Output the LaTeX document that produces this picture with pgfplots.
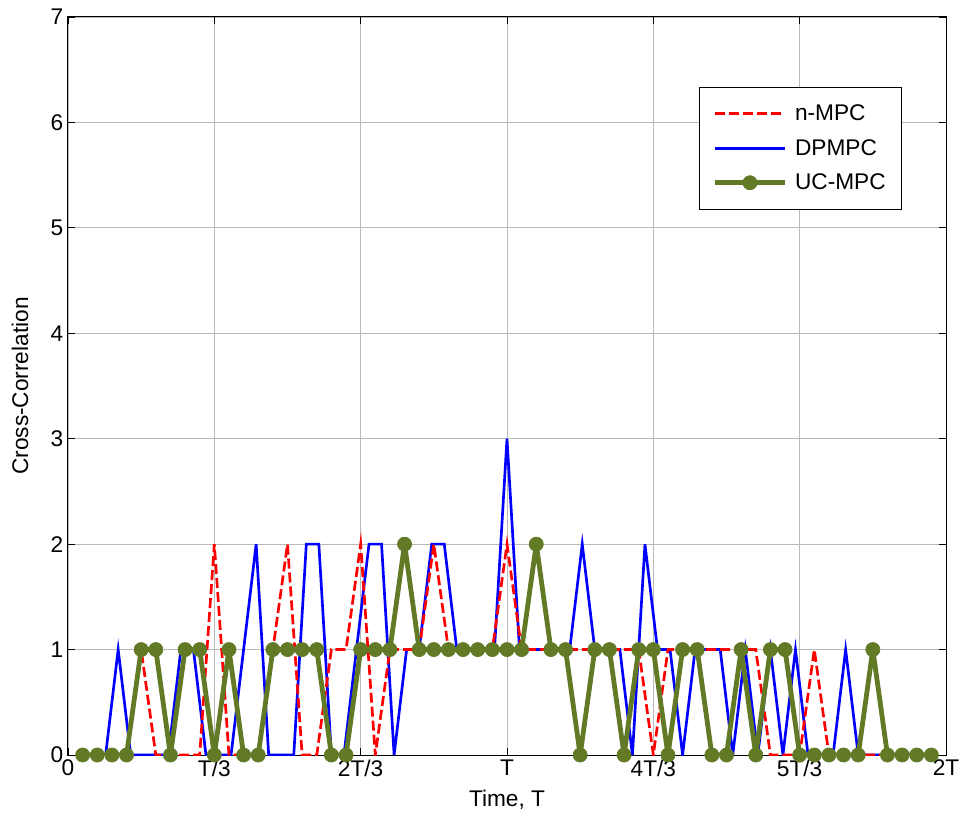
\documentclass[border=0pt]{standalone}
\usepackage{pgfplots}
\pgfplotsset{compat=1.18}
\usepackage{pgfplotstable}
\usepackage{fontspec}
\setmainfont{Liberation Sans}
\definecolor{ucgreen}{RGB}{98,122,38}
\pgfplotsset{legend image code/.code={\draw[mark repeat=2,mark phase=2,#1] plot coordinates {(0pt,0pt) (26pt,0pt) (52pt,0pt)};}}
% k: sample index (step T/30); n = n-MPC, u = UC-MPC
\pgfplotstableread{
k n u
1 0 0
2 0 0
3 0 0
4 0 0
5 1 1
6 0 1
7 0 0
8 0 1
9 0 1
10 2 0
11 0 1
12 0 0
13 0 0
14 1 1
15 2 1
16 0 1
17 0 1
18 1 0
19 1 0
20 2 1
21 0 1
22 1 1
23 1 2
24 1 1
25 2 1
26 1 1
27 1 1
28 1 1
29 1 1
30 2 1
31 1 1
32 1 2
33 1 1
34 1 1
35 1 0
36 1 1
37 1 1
38 1 0
39 1 1
40 0 1
41 1 0
42 1 1
43 1 1
44 1 0
45 1 0
46 1 1
47 1 0
48 0 1
49 0 1
50 0 0
51 1 0
52 0 0
53 0 0
54 0 0
55 0 1
56 0 0
57 0 0
58 0 0
59 0 0
}\tabA
% j: sample index (step T/35); v = DPMPC
\pgfplotstableread{
j v
1 0
2 0
3 0
4 1
5 0
6 0
7 0
8 0
9 1
10 1
11 0
12 0
13 0
14 1
15 2
16 0
17 0
18 0
19 2
20 2
21 0
22 0
23 1
24 2
25 2
26 0
27 1
28 1
29 2
30 2
31 1
32 1
33 1
34 1
35 3
36 1
37 1
38 1
39 1
40 1
41 2
42 1
43 1
44 1
45 0
46 2
47 1
48 1
49 0
50 1
51 1
52 1
53 0
54 1
55 0
56 1
57 0
58 1
59 0
60 0
61 0
62 1
63 0
64 0
65 0
66 0
67 0
68 0
69 0
}\tabB
\begin{document}
\begin{tikzpicture}[font=\fontsize{17}{20}\selectfont]
\begin{axis}[
  scale only axis, width=658.5pt, height=553.5pt,
  xmin=0, xmax=6, ymin=0, ymax=7,
  xtick={0,1,2,3,4,5,6},
  xticklabels={0,T/3,2T/3,T,4T/3,5T/3,2T},
  ytick={0,1,2,3,4,5,6,7},
  /pgf/number format/assume math mode=true,
  tick align=inside, major tick length=5pt,
  tick style={black, line width=0.6pt},
  grid=major, grid style={gray!55, line width=0.6pt},
  axis line style={line width=0.75pt},
  xlabel={Time, T}, ylabel={Cross-Correlation},
  every axis x label/.style={at={(axis description cs:0.5,-0.061)}, anchor=center},
  every axis y label/.style={at={(axis description cs:-0.0547,0.5)}, rotate=90, anchor=center},
  legend cell align=left,
  legend style={at={(0.95,0.905)}, anchor=north east, draw=black, line width=0.6pt,
    fill=white, inner xsep=10pt, inner ysep=11pt, row sep=8.5pt,
    /tikz/every odd column/.append style={column sep=4pt},
    font=\fontsize{17}{20}\selectfont},
  legend image code/.code={\draw[mark repeat=2,mark phase=2,#1] plot coordinates {(0pt,0pt) (26pt,0pt) (52pt,0pt)};},
]
\addlegendimage{red, line width=2pt, dash pattern=on 7.5pt off 3pt}
\addlegendentry{n-MPC}
\addlegendimage{blue, line width=2pt}
\addlegendentry{DPMPC}
\addlegendimage{ucgreen, line width=3.6pt, line join=round, mark=*, mark size=5.3pt, mark options={solid, fill=ucgreen, line width=0.5pt}}
\addlegendentry{UC-MPC}

\addplot[blue, line width=2pt, forget plot] table[x expr=\thisrow{j}*6/70, y=v] {\tabB};
\addplot[red, line width=2pt, dash pattern=on 7.5pt off 3pt, forget plot] table[x expr=\thisrow{k}/10, y=n] {\tabA};
\addplot[ucgreen, line width=3.6pt, line join=round, mark=*, mark size=5.3pt, mark options={solid, fill=ucgreen, line width=0.5pt}, forget plot] table[x expr=\thisrow{k}/10, y=u] {\tabA};
\end{axis}
\pgfresetboundingbox
\path[use as bounding box] (-51pt,-47.25pt) rectangle (671.25pt,566.25pt);
\end{tikzpicture}
\end{document}
